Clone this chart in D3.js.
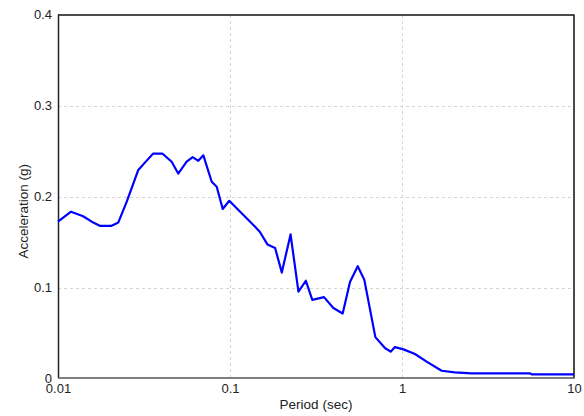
<!DOCTYPE html>
<html>
<head>
<meta charset="utf-8">
<script src="https://cdn.jsdelivr.net/npm/d3@7"></script>
<style>
  body { margin: 0; background: #fff; }
  svg { display: block; font-family: "Liberation Sans", Arial, sans-serif; }
  .grid line { stroke: #d4d4d4; stroke-dasharray: 3,3; shape-rendering: crispEdges; }
  .tick text { fill: #222; font-size: 13px; }
</style>
</head>
<body>
<svg id="chart" width="584" height="416"></svg>
<script>
// response spectrum
var periods = [0.01, 0.0119, 0.014, 0.0157, 0.0175, 0.0205, 0.0224, 0.0251, 0.0293, 0.032,
    0.0358, 0.0404, 0.0458, 0.05, 0.056, 0.0607, 0.0654, 0.07, 0.0783, 0.0837,
    0.0907, 0.099, 0.109, 0.131, 0.149, 0.165, 0.183, 0.2, 0.225, 0.25,
    0.276, 0.301, 0.352, 0.399, 0.452, 0.499, 0.553, 0.604, 0.70, 0.796,
    0.859, 0.91, 1.02, 1.19, 1.39, 1.70, 2.03, 2.54, 5.55, 5.67, 10]
var accel = [0.172, 0.183, 0.178, 0.172, 0.1675, 0.1675, 0.171, 0.194, 0.229, 0.237,
    0.247, 0.247, 0.238, 0.225, 0.238, 0.243, 0.239, 0.245, 0.216, 0.2105,
    0.186, 0.195, 0.187, 0.172, 0.161, 0.147, 0.143, 0.116, 0.158, 0.095,
    0.107, 0.086, 0.089, 0.077, 0.071, 0.106, 0.123, 0.108, 0.045, 0.033,
    0.029, 0.034, 0.0315, 0.0264, 0.018, 0.008, 0.0062, 0.0051, 0.0051, 0.004, 0.004]
var xTicks = [0.01, 0.1, 1, 10]
var yTicks = [0, 0.1, 0.2, 0.3, 0.4]

var svg = d3.select('#chart')
var margin = { top: 14.5, right: 10, bottom: 38, left: 58 }
var width = 584 - margin.left - margin.right
var height = 416 - margin.top - margin.bottom

var g = svg.append('g')
    .attr('transform', 'translate(' + margin.left + ',' + margin.top + ')')

var xScale = d3.scaleLog().domain([0.01, 10]).range([0, width])
var yScale = d3.scaleLinear().domain([0, 0.4]).range([height, 0])

// grid
g.append('g').attr('class', 'grid')
    .selectAll('line').data(xTicks.slice(1, -1)).enter().append('line')
    .attr('x1', d => Math.round(xScale(d)) + 0.5).attr('x2', d => Math.round(xScale(d)) + 0.5)
    .attr('y1', 0).attr('y2', height)
g.append('g').attr('class', 'grid')
    .selectAll('line').data(yTicks.slice(1, -1)).enter().append('line')
    .attr('y1', d => Math.round(yScale(d)) + 0.5).attr('y2', d => Math.round(yScale(d)) + 0.5)
    .attr('x1', 0).attr('x2', width)

// axes (labels only, frame drawn separately)
var xAxis = d3.axisBottom(xScale).tickValues(xTicks).tickFormat(d3.format('~g')).tickSize(0).tickPadding(6)
var yAxis = d3.axisLeft(yScale).tickValues(yTicks).tickFormat(d3.format('~g')).tickSize(0).tickPadding(6)

g.append('g').attr('transform', 'translate(0,' + height + ')').call(xAxis)
    .call(a => a.select('.domain').remove())
g.append('g').call(yAxis)
    .call(a => a.select('.domain').remove())

// frame
g.append('line').attr('x1', 0).attr('x2', width).attr('y1', 0.5).attr('y2', 0.5)
    .attr('stroke', '#111').attr('stroke-width', 1.5)
g.append('line').attr('x1', 0.5).attr('x2', 0.5).attr('y1', 0).attr('y2', height)
    .attr('stroke', '#222').attr('stroke-width', 1.5)
g.append('line').attr('x1', width).attr('x2', width).attr('y1', 0).attr('y2', height)
    .attr('stroke', '#111').attr('stroke-width', 1.5)
g.append('line').attr('x1', 0).attr('x2', width + 0.7).attr('y1', height).attr('y2', height)
    .attr('stroke', '#555').attr('stroke-width', 1.5)

// spectrum line
var data = periods.map((p, i) => ({ x: p, y: accel[i] }))
var line = d3.line()
    .x(d => xScale(d.x))
    .y(d => yScale(d.y))
g.append('path')
    .datum(data)
    .attr('d', line)
    .attr('fill', 'none')
    .attr('stroke', '#0000ff')
    .attr('stroke-width', 2.2)
    .attr('stroke-linejoin', 'round')

// titles
svg.append('text')
    .attr('x', margin.left + width / 2)
    .attr('y', 409)
    .attr('text-anchor', 'middle')
    .style('font-size', '13.5px')
    .style('fill', '#222')
    .text('Period (sec)')
svg.append('text')
    .attr('transform', 'translate(28,' + (margin.top + height / 2 + 15) + ') rotate(-90)')
    .attr('text-anchor', 'middle')
    .style('font-size', '13.5px')
    .style('fill', '#222')
    .text('Acceleration (g)')
</script>
</body>
</html>
